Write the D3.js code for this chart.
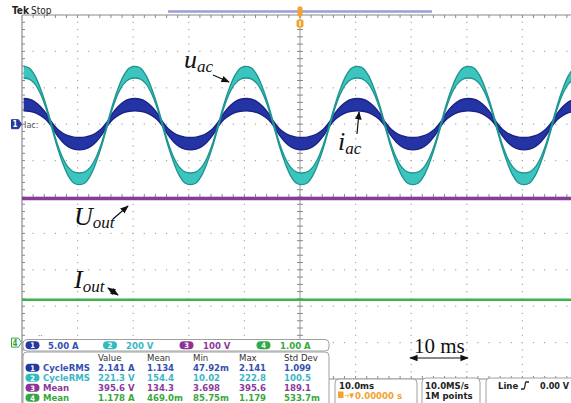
<!DOCTYPE html>
<html><head><meta charset="utf-8">
<script src="https://cdn.jsdelivr.net/npm/d3@7"></script>
<style>body{margin:0;background:#fff}svg{display:block}</style>
</head><body>
<svg id="c" width="571" height="403"></svg>
<script>
// ---------------- DATA ----------------
// sample times in ms (1 ms apart, screen spans -50..+50 ms at 10 ms/div)
const sampleTimes = d3.range(101).map(k => -49.7 + k);
// Channel 2 (u_ac, V): upper / lower edge of the persistence band
const cyanHi = [
325,316,275,205,115,8,-96,-176,-229,-255,-261,-255,-229,-176,-96,8,115,205,275,316,
325,316,275,205,115,8,-96,-176,-229,-255,-261,-255,-229,-176,-96,8,115,205,275,316,
325,316,275,205,115,8,-96,-176,-229,-255,-261,-255,-229,-176,-96,8,115,205,275,316,
325,316,275,205,115,8,-96,-176,-229,-255,-261,-255,-229,-176,-96,8,115,205,275,316,
325,316,275,205,115,8,-96,-176,-229,-255,-261,-255,-229,-176,-96,8,115,205,275,316,
325];
const cyanLo = [
261,255,229,176,96,-8,-115,-205,-275,-316,-325,-316,-275,-205,-115,-8,96,176,229,255,
261,255,229,176,96,-8,-115,-205,-275,-316,-325,-316,-275,-205,-115,-8,96,176,229,255,
261,255,229,176,96,-8,-115,-205,-275,-316,-325,-316,-275,-205,-115,-8,96,176,229,255,
261,255,229,176,96,-8,-115,-205,-275,-316,-325,-316,-275,-205,-115,-8,96,176,229,255,
261,255,229,176,96,-8,-115,-205,-275,-316,-325,-316,-275,-205,-115,-8,96,176,229,255,
261];
// Channel 1 (i_ac, A)
const blueHi = [
3.53,3.43,3.08,2.43,1.51,0.30,-0.63,-1.21,-1.58,-1.78,-1.83,-1.78,-1.58,-1.21,-0.63,0.30,1.51,2.43,3.08,3.43,
3.53,3.43,3.08,2.43,1.51,0.30,-0.63,-1.21,-1.58,-1.78,-1.83,-1.78,-1.58,-1.21,-0.63,0.30,1.51,2.43,3.08,3.43,
3.53,3.43,3.08,2.43,1.51,0.30,-0.63,-1.21,-1.58,-1.78,-1.83,-1.78,-1.58,-1.21,-0.63,0.30,1.51,2.43,3.08,3.43,
3.53,3.43,3.08,2.43,1.51,0.30,-0.63,-1.21,-1.58,-1.78,-1.83,-1.78,-1.58,-1.21,-0.63,0.30,1.51,2.43,3.08,3.43,
3.53,3.43,3.08,2.43,1.51,0.30,-0.63,-1.21,-1.58,-1.78,-1.83,-1.78,-1.58,-1.21,-0.63,0.30,1.51,2.43,3.08,3.43,
3.53];
const blueLo = [
1.83,1.78,1.58,1.21,0.63,-0.30,-1.51,-2.43,-3.08,-3.43,-3.53,-3.43,-3.08,-2.43,-1.51,-0.30,0.63,1.21,1.58,1.78,
1.83,1.78,1.58,1.21,0.63,-0.30,-1.51,-2.43,-3.08,-3.43,-3.53,-3.43,-3.08,-2.43,-1.51,-0.30,0.63,1.21,1.58,1.78,
1.83,1.78,1.58,1.21,0.63,-0.30,-1.51,-2.43,-3.08,-3.43,-3.53,-3.43,-3.08,-2.43,-1.51,-0.30,0.63,1.21,1.58,1.78,
1.83,1.78,1.58,1.21,0.63,-0.30,-1.51,-2.43,-3.08,-3.43,-3.53,-3.43,-3.08,-2.43,-1.51,-0.30,0.63,1.21,1.58,1.78,
1.83,1.78,1.58,1.21,0.63,-0.30,-1.51,-2.43,-3.08,-3.43,-3.53,-3.43,-3.08,-2.43,-1.51,-0.30,0.63,1.21,1.58,1.78,
1.83];
// Channel 3 (U_out, V) and channel 4 (I_out, A): flat DC levels
const uoutTimes = [-50, 50];
const uoutValues = [395.6, 395.6];
const ioutTimes = [-50, 50];
const ioutValues = [1.178, 1.178];

// readouts
const chNums = ["1","2","3","4"];
const chScaleText = ["5.00 A","200 V","100 V","1.00 A"];
const measHeaders = ["Value","Mean","Min","Max","Std Dev"];
const measNames = ["CycleRMS","CycleRMS","Mean","Mean"];
const measValue = ["2.141 A","221.3 V","395.6 V","1.178 A"];
const measMean  = ["1.134","154.4","134.3","469.0m"];
const measMin   = ["47.92m","10.02","3.698","85.75m"];
const measMax   = ["2.141","222.8","395.6","1.179"];
const measStd   = ["1.099","100.5","189.1","533.7m"];
const timeBase = "10.0ms", trigPos = "0.00000 s";
const sampleRate = "10.0MS/s", recLen = "1M points";
const trigSrc = "Line", trigLevel = "0.00 V";

// ---------------- LAYOUT / STYLE ----------------
const chCol  = ["#2438a0","#2fbcc0","#8a3595","#33a845"];
const chText = ["#3550b0","#3cb6c6","#8a3a9a","#38a83c"];
const uiFont = "'DejaVu Sans Condensed','Liberation Sans',sans-serif";
const svg = d3.select("#c");
const gL = 22, gT = 15, divX = 55.6, divY = 36.4;
const gR = gL + 10*divX, gB = gT + 10*divY;
const x = d3.scaleLinear().domain([-50, 50]).range([gL, gR]);
const chScale = (ground, perDiv) => d3.scaleLinear().domain([0, perDiv]).range([ground, ground - divY]);
const y1 = chScale(gT + 3*divY, 5);
const y2 = chScale(125.5, 200);
const y3 = chScale(gT + 9*divY, 100);
const y4 = chScale(gT + 9*divY, 1);

const defs = svg.append("defs");
defs.append("clipPath").attr("id","clip").append("rect")
  .attr("x", gL).attr("y", gT).attr("width", 571 - gL).attr("height", gB - gT);
defs.append("marker").attr("id","ah").attr("viewBox","0 0 10 10").attr("refX",9).attr("refY",5)
  .attr("markerWidth",7).attr("markerHeight",7).attr("orient","auto-start-reverse")
  .append("path").attr("d","M0,1 L10,5 L0,9 z").attr("fill","#111");

// ---- graticule ----
const grid = svg.append("g");
const gridCol = "#a8a8a8";
for (let i = 1; i < 10; i++) {
  if (i === 5) continue;
  const gx = gL + i*divX;
  for (let k = 1; k < 50; k++) grid.append("rect").attr("x", gx-0.6).attr("y", gT + k*divY/5 - 0.6)
      .attr("width",1.2).attr("height",1.2).attr("fill",gridCol);
}
for (let j = 1; j < 10; j++) {
  if (j === 5) continue;
  const gy = gT + j*divY;
  for (let k = 1; k < 50; k++) grid.append("rect").attr("x", gL + k*divX/5 - 0.6).attr("y", gy-0.6)
      .attr("width",1.2).attr("height",1.2).attr("fill",gridCol);
}
const cx = gL + 5*divX, cy = gT + 5*divY;
grid.append("line").attr("x1",cx).attr("x2",cx).attr("y1",gT).attr("y2",gB).attr("stroke","#9a9a9a");
grid.append("line").attr("x1",gL).attr("x2",571).attr("y1",cy).attr("y2",cy).attr("stroke","#9a9a9a");
for (let k = 1; k < 50; k++) {
  const ty = gT + k*divY/5;
  grid.append("line").attr("x1",cx-3).attr("x2",cx+3).attr("y1",ty).attr("y2",ty).attr("stroke","#888");
  grid.append("line").attr("x1",gL).attr("x2",gL+3).attr("y1",ty).attr("y2",ty).attr("stroke","#888");
  const tx = gL + k*divX/5;
  grid.append("line").attr("x1",tx).attr("x2",tx).attr("y1",cy-3).attr("y2",cy+3).attr("stroke","#888");
  grid.append("line").attr("x1",tx).attr("x2",tx).attr("y1",gT).attr("y2",gT+3).attr("stroke","#888");
  grid.append("line").attr("x1",tx).attr("x2",tx).attr("y1",gB-3).attr("y2",gB).attr("stroke","#888");
}
grid.append("line").attr("x1",gL).attr("x2",571).attr("y1",gT).attr("y2",gT).attr("stroke","#8a8a8a").attr("stroke-width",1.2);
grid.append("line").attr("x1",gL).attr("x2",571).attr("y1",gB).attr("y2",gB).attr("stroke","#8a8a8a");
grid.append("line").attr("x1",gL).attr("x2",gL).attr("y1",gT).attr("y2",403).attr("stroke","#8a8a8a").attr("stroke-width",1.2);

// ---- traces ----
const tr = svg.append("g").attr("clip-path","url(#clip)");
function band(hi, lo, ys, fill, edge, ew) {
  const pts = sampleTimes.map((t, i) => ({t, hi: hi[i], lo: lo[i]}));
  const curve = d3.curveCatmullRom.alpha(0.5);
  tr.append("path").datum(pts)
    .attr("d", d3.area().x(d => x(d.t)).y0(d => ys(d.lo)).y1(d => ys(d.hi)).curve(curve))
    .attr("fill", fill);
  [ "hi", "lo" ].forEach(key => {
    tr.append("path").datum(pts)
      .attr("d", d3.line().x(d => x(d.t)).y(d => ys(d[key])).curve(curve))
      .attr("fill","none").attr("stroke", edge).attr("stroke-width", ew);
  });
}
band(blueHi, blueLo, y1, "#2434a4", "#1a2384", 1.4);
band(cyanHi, cyanLo, y2, "#3cc4be", "#1d938f", 1.3);
function flat(ts, vs, ys, col, w) {
  tr.append("path").datum(ts.map((t,i)=>({t, v: vs[i]})))
    .attr("d", d3.line().x(d => x(d.t)).y(d => ys(d.v)))
    .attr("fill","none").attr("stroke", col).attr("stroke-width", w);
}
flat(uoutTimes, uoutValues, y3, "#8b3a9c", 3.2);
flat(ioutTimes, ioutValues, y4, "#3db44a", 2.6);

// ---- top bar ----
svg.append("text").attr("x",12).attr("y",14).attr("font-family",uiFont).attr("font-size",10)
  .attr("font-weight","bold").attr("fill","#222").text("Tek");
svg.append("text").attr("x",31).attr("y",14).attr("font-family",uiFont).attr("font-size",10)
  .attr("fill","#222").text("Stop");
svg.append("line").attr("x1",168).attr("x2",432).attr("y1",11.5).attr("y2",11.5)
  .attr("stroke","#9c9cd8").attr("stroke-width",2.4);
svg.append("rect").attr("x",x(0)-2.5).attr("y",6.5).attr("width",5).attr("height",10).attr("rx",1.5).attr("fill","#f2a230");
svg.append("rect").attr("x",x(0)-3.5).attr("y",19.5).attr("width",7).attr("height",8).attr("rx",2).attr("fill","#f2a230");
svg.append("rect").attr("x",x(0)-1).attr("y",21).attr("width",2).attr("height",5).attr("fill","#fde0b0");

// ---- channel ground markers ----
function marker(yy, num, col, filled) {
  const g = svg.append("g");
  g.append("path").attr("d",`M11.5,${yy-4.5} H18.5 L21.5,${yy} L18.5,${yy+4.5} H11.5 Z`)
    .attr("fill", filled ? col : "#fff").attr("stroke", col).attr("stroke-width",1);
  g.append("text").attr("x",15).attr("y",yy+3).attr("text-anchor","middle").attr("font-family",uiFont)
    .attr("font-size",8).attr("font-weight","bold").attr("fill", filled ? "#fff" : col).text(num);
}
marker(y1(0), "1", chCol[0], true);
svg.append("text").attr("x",24).attr("y",y1(0)+3.5).attr("font-family",uiFont).attr("font-size",9)
  .attr("fill","#555").text("Iac:");
marker(y4(0), "4", chCol[3], false);
svg.append("text").attr("x",38).attr("y",339).attr("font-family",uiFont).attr("font-size",8).attr("fill","#666").text("··");

// ---- annotations ----
const serif = "'Liberation Serif','Times New Roman',serif";
function label(xx, yy, main, sub, dyx) {
  const t = svg.append("text").attr("x",xx).attr("y",yy).attr("font-family",serif)
    .attr("font-style","italic").attr("font-size",26).attr("fill","#111");
  t.append("tspan").text(main);
  t.append("tspan").attr("font-size",17).attr("dy",dyx).text(sub);
}
label(184, 68, "u", "ac", 4);
label(338, 150, "i", "ac", 4);
label(74, 225, "U", "out", 3);
label(74, 288, "I", "out", 4);
function arrow(x1_, y1_, x2_, y2_, both) {
  const l = svg.append("line").attr("x1",x1_).attr("y1",y1_).attr("x2",x2_).attr("y2",y2_)
    .attr("stroke","#111").attr("stroke-width",1.2).attr("marker-end","url(#ah)");
  if (both) l.attr("marker-start","url(#ah)");
}
arrow(213, 75, 229, 82);
arrow(357, 134, 359, 112);
arrow(113, 219, 128, 206);
arrow(108, 288, 118, 295, true);
svg.append("text").attr("x",414).attr("y",353).attr("font-family",serif).attr("font-size",21)
  .attr("fill","#111").text("10 ms");
arrow(410, 358, 468, 358, true);

// ---- channel scale box ----
svg.append("rect").attr("x",23).attr("y",339.5).attr("width",306).attr("height",11.5).attr("rx",4)
  .attr("fill","#fff").attr("stroke","#a0a0a0");
function pill(cxp, cyp, num, col) {
  svg.append("rect").attr("x",cxp-7).attr("y",cyp-4).attr("width",14).attr("height",8).attr("rx",4).attr("fill",col);
  svg.append("text").attr("x",cxp).attr("y",cyp+3).attr("text-anchor","middle").attr("font-family",uiFont)
    .attr("font-size",7.5).attr("font-weight","bold").attr("fill","#fff").text(num);
}
const pillX = [32.5, 110, 186.5, 263.5], scaleTX = [48, 126, 203, 280];
chNums.forEach((n, i) => {
  pill(pillX[i], 345.2, n, chCol[i]);
  svg.append("text").attr("x",scaleTX[i]).attr("y",349).attr("font-family",uiFont).attr("font-size",9.5)
    .attr("font-weight","bold").attr("fill",chText[i]).text(chScaleText[i]);
});

// ---- measurement box ----
svg.append("rect").attr("x",23).attr("y",352).attr("width",306).attr("height",56).attr("rx",4)
  .attr("fill","#fff").attr("stroke","#a0a0a0");
const colX = [98, 147, 193, 239, 284];
measHeaders.forEach((h, i) => svg.append("text").attr("x",colX[i]).attr("y",361).attr("font-family",uiFont)
  .attr("font-size",9.5).attr("fill","#333").text(h));
const rows = chNums.map((n, i) => [measValue[i], measMean[i], measMin[i], measMax[i], measStd[i]]);
rows.forEach((r, i) => {
  const by = 371 + i*10;
  pill(32.5, by - 3.3, chNums[i], chCol[i]);
  svg.append("text").attr("x",43).attr("y",by).attr("font-family",uiFont).attr("font-size",9.5)
    .attr("font-weight","bold").attr("fill",chText[i]).text(measNames[i]);
  r.forEach((v, j) => svg.append("text").attr("x",colX[j]).attr("y",by).attr("font-family",uiFont)
    .attr("font-size",9.5).attr("font-weight","bold").attr("fill",chText[i]).text(v));
});

// ---- timebase / acquisition / trigger boxes ----
function box(bx, by, bw) {
  svg.append("rect").attr("x",bx).attr("y",by).attr("width",bw).attr("height",30).attr("rx",4)
    .attr("fill","#fff").attr("stroke","#a0a0a0");
}
box(335, 379, 82); box(422, 378, 58); box(486, 378, 100);
const ui = (xx, yy, s, col, bold, fs) => svg.append("text").attr("x",xx).attr("y",yy).attr("font-family",uiFont)
  .attr("font-size",fs || 9.5).attr("font-weight", bold ? "bold" : "normal").attr("fill",col).text(s);
ui(339, 389, timeBase, "#222", true);
svg.append("rect").attr("x",338).attr("y",391.5).attr("width",5.5).attr("height",6.5).attr("fill","#f2a230");
svg.append("text").attr("x",344).attr("y",398).attr("font-family",uiFont).attr("font-size",7).attr("fill","#f2a230").text("→▼");
ui(355, 398.5, trigPos, "#f2a230", true);
ui(425, 389, sampleRate, "#222", true);
ui(425, 398.5, recLen, "#222", true);
ui(498, 389, trigSrc, "#222", true);
svg.append("path").attr("d","M521,389 L524,389 C525,389 525,382 526,382 L529,382")
  .attr("fill","none").attr("stroke","#222").attr("stroke-width",1.3);
ui(540, 389, trigLevel, "#222", true, 9);
</script>
</body></html>
